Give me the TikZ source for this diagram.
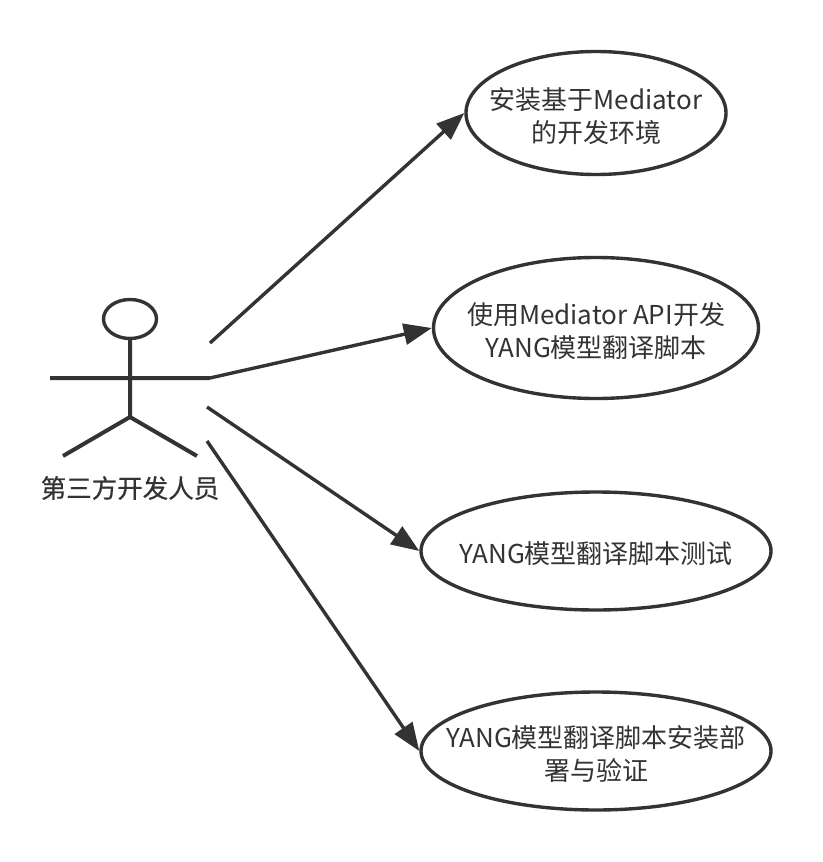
\documentclass[tikz,border=0pt]{standalone}
\usepackage{fontspec}
\setmainfont{Noto Sans CJK SC}
\newfontfamily\actorfont[FakeBold=0.6]{Noto Sans CJK SC}
\usetikzlibrary{shapes.geometric,arrows.meta}
\definecolor{inkgray}{HTML}{333333}
\tikzset{
  usecase/.style={shape=ellipse,draw=inkgray,line width=3.4pt,inner sep=0pt},
  casetext/.style={inner sep=0pt,yshift=-3pt,align=center,text=inkgray,font=\fontsize{26}{33}\selectfont},
  stick/.style={draw=inkgray,line width=4pt},
  assoc/.style={draw=inkgray,line width=3.4pt,-{Triangle[length=28pt,width=21pt]}}
}
\begin{document}
\begin{tikzpicture}[x=1pt,y=-1pt]
  \useasboundingbox (0,0) rectangle (822,862);
  % use cases
  \node[usecase,minimum width=260pt,minimum height=123pt,label={[casetext]center:{安装基于Mediator\\的开发环境}}](Env) at (596,113){};
  \node[usecase,minimum width=325pt,minimum height=141pt,label={[casetext]center:{使用Mediator API开发\\YANG模型翻译脚本}}](Api) at (596,328){};
  \node[usecase,minimum width=350pt,minimum height=118pt,label={[casetext]center:{YANG模型翻译脚本测试}}](Test) at (596,551){};
  \node[usecase,minimum width=350pt,minimum height=118pt,label={[casetext]center:{YANG模型翻译脚本安装部\\署与验证}}](Deploy) at (596,751){};
  % actor
  \node[shape=ellipse,draw=inkgray,line width=3.4pt,minimum width=53pt,minimum height=39pt,inner sep=0pt](Head) at (130,319){};
  \coordinate (HandL) at (50,378);
  \coordinate (HandR) at (210,378);
  \coordinate (Hip) at (130,417);
  \coordinate (FootL) at (63,456);
  \coordinate (FootR) at (197,456);
  \draw[stick] (Head.south) -- (Hip) (HandL) -- (HandR) (FootL) -- (Hip) -- (FootR);
  \node[text=inkgray,font=\fontsize{25.5}{30}\selectfont\actorfont,inner sep=0pt](Actor) at (130,488){第三方开发人员};
  % associations
  \coordinate (FromEnv) at (210,343);
  \coordinate (FromTest) at (207,407);
  \coordinate (FromDeploy) at (207,441);
  \draw[assoc] (FromEnv) -- (Env.west);
  \draw[assoc] (HandR) -- (Api.west);
  \draw[assoc] (FromTest) -- (Test.west);
  \draw[assoc] (FromDeploy) -- (Deploy.west);
\end{tikzpicture}
\end{document}
